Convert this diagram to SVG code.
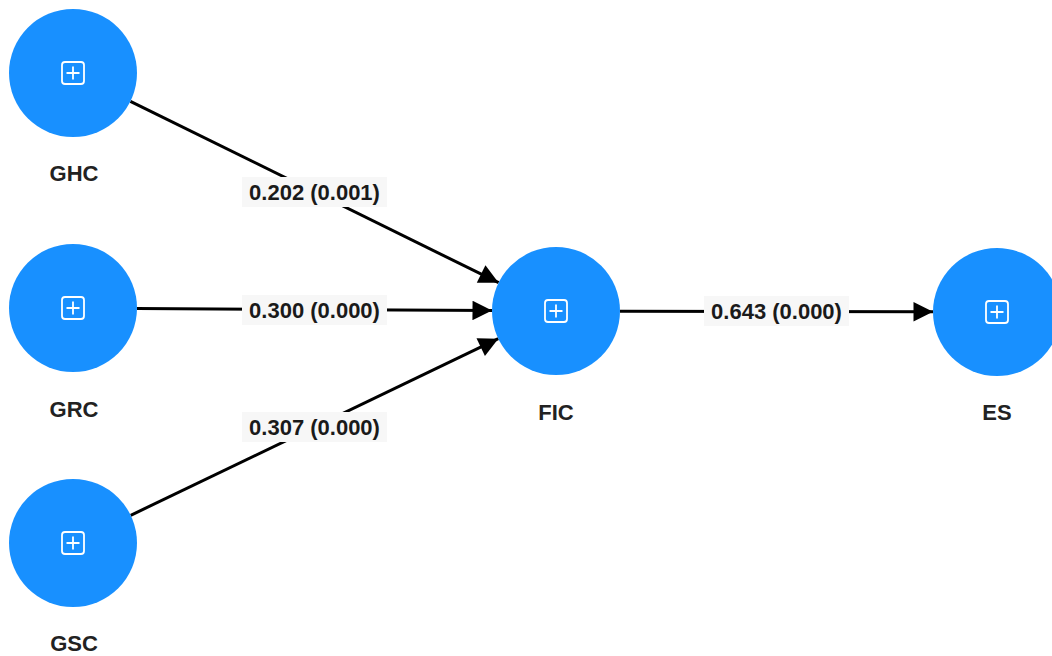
<svg xmlns="http://www.w3.org/2000/svg" width="1052" height="656" viewBox="0 0 1052 656">
  <style>
    .node { fill: #1890ff; }
    .icon { fill: none; stroke: #ffffff; stroke-width: 1.8; }
    .name { font-family: "Liberation Sans", Arial, sans-serif; font-size: 22px; font-weight: bold; fill: #222222; text-anchor: middle; }
    .edge { stroke: #000000; stroke-width: 3; fill: none; marker-end: url(#arrow); }
    .lbg { fill: #f7f7f7; }
    .ltx { font-family: "Liberation Sans", Arial, sans-serif; font-size: 22px; font-weight: bold; fill: #1a1a1a; text-anchor: middle; }
  </style>
  <defs>
    <marker id="arrow" viewBox="0 0 10 10" refX="10" refY="5" markerWidth="7.5" markerHeight="6.5" orient="auto" markerUnits="strokeWidth">
      <path d="M0,0 L10,5 L0,10 z" fill="#000000"/>
    </marker>
    <g id="expand">
      <rect x="-11" y="-11" width="22" height="22" rx="3" class="icon"/>
      <path d="M0,-6.5 V6.5 M-6.5,0 H6.5" class="icon"/>
    </g>
  </defs>
  <rect width="1052" height="656" fill="#ffffff"/>

  <g id="connectors">
    <line class="edge" x1="130.4" y1="101.3" x2="498.6" y2="282.7"/>
    <line class="edge" x1="137" y1="308.4" x2="492" y2="310.6"/>
    <line class="edge" x1="130.7" y1="515.3" x2="498.3" y2="338.7"/>
    <line class="edge" x1="620" y1="311.2" x2="933" y2="311.8"/>
    <rect class="lbg" x="242" y="177" width="145" height="30"/>
    <text class="ltx" x="314.5" y="200">0.202 (0.001)</text>
    <rect class="lbg" x="242" y="295" width="145" height="30"/>
    <text class="ltx" x="314.5" y="318">0.300 (0.000)</text>
    <rect class="lbg" x="242" y="412" width="145" height="30"/>
    <text class="ltx" x="314.5" y="435">0.307 (0.000)</text>
    <rect class="lbg" x="704" y="296" width="145" height="30"/>
    <text class="ltx" x="776.5" y="319">0.643 (0.000)</text>
  </g>

  <g id="GHC">
    <circle class="node" cx="73" cy="73" r="64"/>
    <use href="#expand" x="73" y="73"/>
    <text class="name" x="74" y="181">GHC</text>
  </g>
  <g id="GRC">
    <circle class="node" cx="73" cy="308" r="64"/>
    <use href="#expand" x="73" y="308"/>
    <text class="name" x="74" y="417">GRC</text>
  </g>
  <g id="GSC">
    <circle class="node" cx="73" cy="543" r="64"/>
    <use href="#expand" x="73" y="543"/>
    <text class="name" x="74" y="651">GSC</text>
  </g>
  <g id="FIC">
    <circle class="node" cx="556" cy="311" r="64"/>
    <use href="#expand" x="556" y="311"/>
    <text class="name" x="556" y="420">FIC</text>
  </g>
  <g id="ES">
    <circle class="node" cx="997" cy="312" r="64"/>
    <use href="#expand" x="997" y="312"/>
    <text class="name" x="997" y="420">ES</text>
  </g>
</svg>
